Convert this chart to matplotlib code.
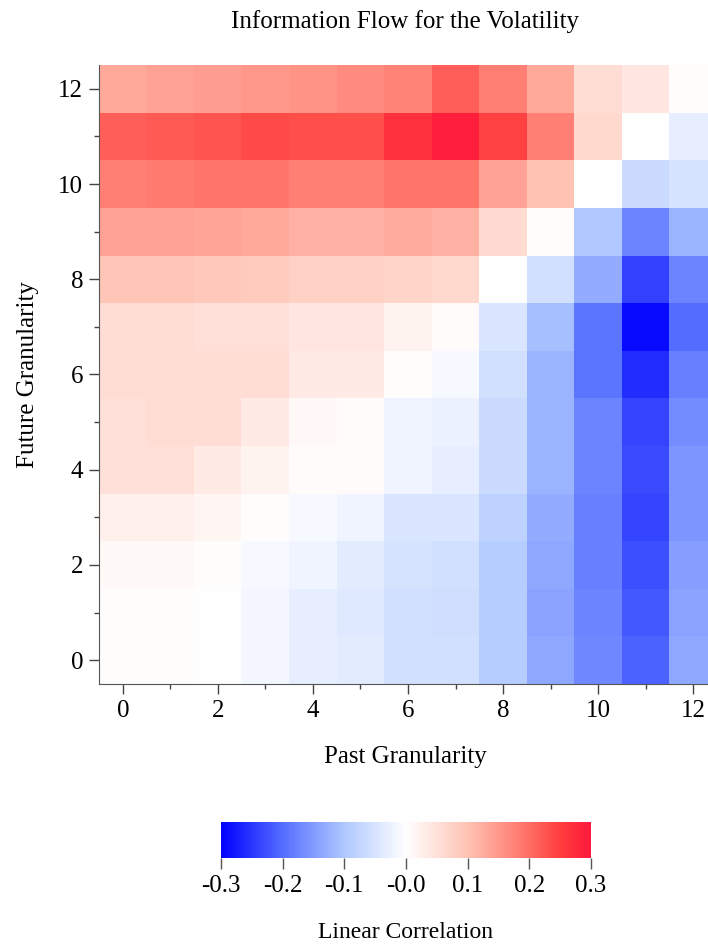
import numpy as np
import matplotlib
matplotlib.use("Agg")
import matplotlib.pyplot as plt
from matplotlib.colors import LinearSegmentedColormap
from matplotlib.ticker import MultipleLocator

plt.rcParams['font.family'] = ['Liberation Serif', 'DejaVu Serif']

past = list(range(13))
future = list(range(13))

# rows: future granularity 0..12 ; columns: past granularity 0..12
corr_rows = {
    0:  [0.003, 0.003, 0.001, -0.012, -0.030, -0.033, -0.055, -0.055, -0.090, -0.135, -0.170, -0.210, -0.135],
    1:  [0.003, 0.003, 0.001, -0.012, -0.030, -0.040, -0.055, -0.060, -0.090, -0.140, -0.175, -0.220, -0.140],
    2:  [0.008, 0.008, 0.004, -0.010, -0.020, -0.035, -0.050, -0.055, -0.090, -0.135, -0.180, -0.225, -0.145],
    3:  [0.025, 0.025, 0.015, 0.003, -0.010, -0.020, -0.045, -0.045, -0.080, -0.130, -0.180, -0.235, -0.155],
    4:  [0.050, 0.050, 0.035, 0.020, 0.005, 0.005, -0.020, -0.030, -0.065, -0.120, -0.175, -0.230, -0.155],
    5:  [0.050, 0.055, 0.055, 0.035, 0.010, 0.005, -0.020, -0.025, -0.065, -0.120, -0.175, -0.235, -0.165],
    6:  [0.055, 0.055, 0.055, 0.055, 0.035, 0.035, 0.003, -0.010, -0.055, -0.120, -0.190, -0.260, -0.180],
    7:  [0.055, 0.055, 0.050, 0.050, 0.040, 0.040, 0.020, 0.005, -0.045, -0.110, -0.190, -0.290, -0.200],
    8:  [0.095, 0.095, 0.090, 0.085, 0.075, 0.075, 0.070, 0.065, 0.002, -0.055, -0.130, -0.240, -0.175],
    9:  [0.140, 0.140, 0.135, 0.130, 0.120, 0.120, 0.125, 0.120, 0.060, 0.003, -0.100, -0.175, -0.120],
    10: [0.180, 0.185, 0.190, 0.190, 0.180, 0.180, 0.190, 0.190, 0.140, 0.100, 0.002, -0.065, -0.050],
    11: [0.215, 0.220, 0.225, 0.235, 0.230, 0.230, 0.265, 0.290, 0.245, 0.180, 0.065, 0.002, -0.030],
    12: [0.130, 0.140, 0.145, 0.150, 0.155, 0.165, 0.175, 0.215, 0.180, 0.130, 0.055, 0.040, 0.003],
}
Z = np.array([corr_rows[f] for f in future])

cbar_ticks = [-0.3, -0.2, -0.1, 0.0, 0.1, 0.2, 0.3]
cbar_labels = ['-0.3', '-0.2', '-0.1', '-0.0', '0.1', '0.2', '0.3']

cmap = LinearSegmentedColormap.from_list('flow', [
    (0.0, (0/255, 0/255, 1.0)),
    (1/6, (85/255, 110/255, 1.0)),
    (2/6, (175/255, 200/255, 1.0)),
    (0.5, (1.0, 1.0, 1.0)),
    (4/6, (1.0, 195/255, 180/255)),
    (5/6, (1.0, 110/255, 100/255)),
    (11/12, (1.0, 62/255, 62/255)),
    (1.0, (1.0, 25/255, 60/255)),
])

W, H = 708, 946
fig = plt.figure(figsize=(W/100, H/100), dpi=100)
FS = 18

ax_l, ax_r, ax_t, ax_b = 99, 717, 65, 684
ax = fig.add_axes([ax_l/W, 1 - ax_b/H, (ax_r-ax_l)/W, (ax_b-ax_t)/H])
im = ax.imshow(Z, cmap=cmap, vmin=-0.3, vmax=0.3, origin='lower', aspect='auto',
               extent=[-0.5, 12.5, -0.5, 12.5], interpolation='nearest')
ax.set_xlim(-0.5, 12.5)
ax.set_ylim(-0.5, 12.5)
ax.xaxis.set_major_locator(MultipleLocator(2))
ax.xaxis.set_minor_locator(MultipleLocator(1))
ax.yaxis.set_major_locator(MultipleLocator(2))
ax.yaxis.set_minor_locator(MultipleLocator(1))
ax.tick_params(which='major', length=7.5, width=1, labelsize=FS, direction='out',
               color='#444444', pad=4)
ax.tick_params(which='minor', length=3.6, width=1, direction='out', color='#444444')
for s in ['top', 'right']:
    ax.spines[s].set_visible(False)
for s in ['left', 'bottom']:
    ax.spines[s].set_color('#555555')
fig.text(405/W, 1 - 757/H, 'Past Granularity', ha='center', va='center', fontsize=FS)
fig.text(28/W, 1 - 375/H, 'Future Granularity', ha='center', va='center',
         fontsize=FS, rotation=90)
fig.text(405/W, 1 - 22/H, 'Information Flow for the Volatility', ha='center',
         va='center', fontsize=FS)

cax = fig.add_axes([221/W, 1 - 858/H, (591-221)/W, (858-822)/H])
cb = fig.colorbar(im, cax=cax, orientation='horizontal', ticks=cbar_ticks)
cb.ax.set_xticklabels(cbar_labels)
cb.outline.set_visible(False)
cb.ax.tick_params(length=8, width=1, labelsize=FS, color='#555555', pad=4)
fig.text(405/W, 1 - 932/H, 'Linear Correlation', ha='center', va='center', fontsize=17)

fig.savefig('out.png', dpi=100)
